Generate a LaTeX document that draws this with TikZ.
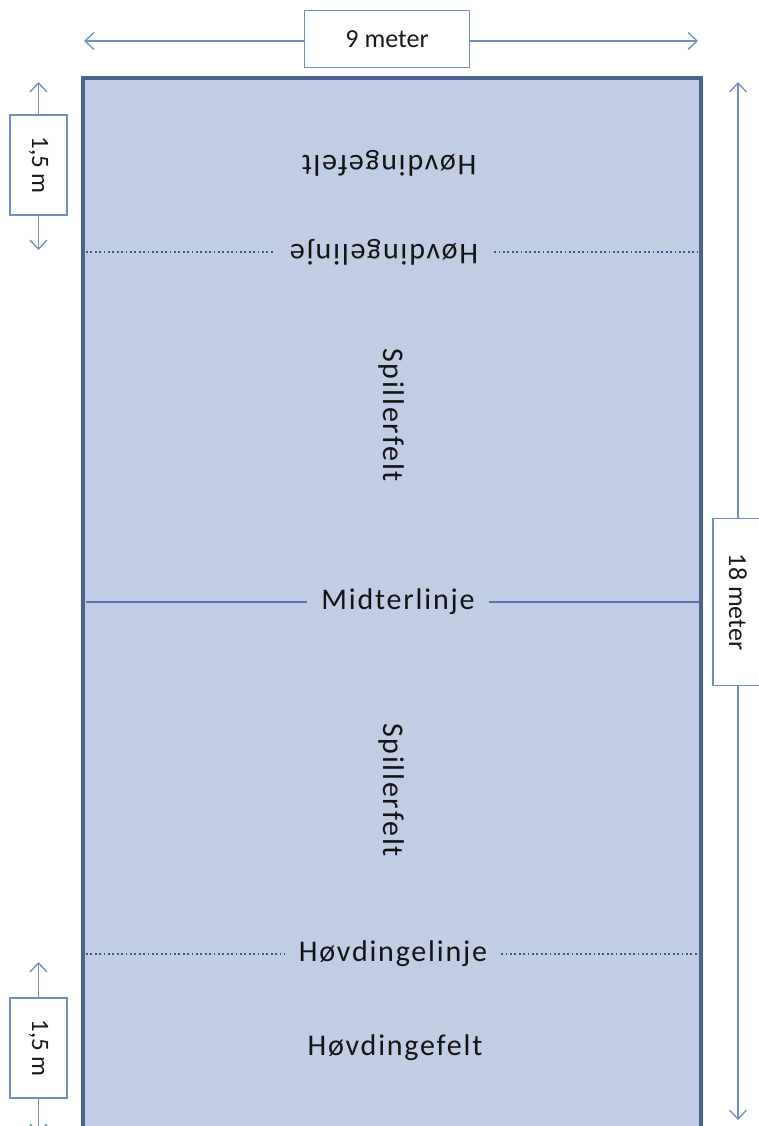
\documentclass[tikz,border=0pt]{standalone}
\usepackage{fontspec}
\setmainfont{Carlito}
\newfontfamily\widefont{Carlito}[LetterSpace=6]
\usetikzlibrary{arrows.meta}
\definecolor{field}{RGB}{192,205,228}
\definecolor{border}{RGB}{74,99,145}
\definecolor{dim}{RGB}{112,142,196}
\definecolor{midc}{RGB}{85,115,172}
\definecolor{dots}{RGB}{55,85,145}
\begin{document}
\begin{tikzpicture}[x=1pt,y=1pt,
 lbl/.style={font=\fontsize{30}{32}\selectfont\widefont, text=black!92, inner sep=0pt},
 dimbox/.style={draw=dim, line width=1.3pt, fill=white, inner sep=0pt, text=black!90, font=\fontsize{26}{28}\selectfont},
 dimline/.style={draw=dim, line width=1.3pt},
 tipb/.style={-{Straight Barb[length=9pt,width=17pt]}},
 dotline/.style={draw=dots, line width=2.2pt, dash pattern=on 1.8pt off 2.6pt},
 midline/.style={draw=midc, line width=1.4pt},
]
\useasboundingbox (0,0) rectangle (759,-1126);
\clip (0,0) rectangle (759,-1126);
\fill[white] (0,0) rectangle (759,-1126);
% field
\draw[border, line width=3.5pt, fill=field] (83,-78) rectangle (701,-1145);
% dimension: 9 meter
\node[dimbox, minimum width=165pt, minimum height=57pt] (w) at (387,-39) {9 meter};
\coordinate (wL) at (84,-41);
\coordinate (wR) at (698,-41);
\draw[dimline, tipb] (w.west |- wL) -- (wL);
\draw[dimline, tipb] (w.east |- wR) -- (wR);
% dimension: 18 meter
\node[dimbox, rotate=-90, minimum width=167pt, minimum height=50pt] (h) at (738,-602) {18 meter};
\coordinate (hT) at (738,-82);
\coordinate (hB) at (738,-1120);
\draw[dimline, tipb] (h.west) -- (hT);
\draw[dimline, tipb] (h.east) -- (hB);
% dimension: 1,5 m top
\node[dimbox, rotate=-90, minimum width=100pt, minimum height=57pt, font=\fontsize{25}{27}\selectfont] (a) at (38.5,-165) {1,5 m};
\coordinate (aT) at (38.5,-82);
\coordinate (aB) at (38.5,-250);
\draw[dimline, tipb] (a.west) -- (aT);
\draw[dimline, tipb] (a.east) -- (aB);
% dimension: 1,5 m bottom
\node[dimbox, rotate=-90, minimum width=100pt, minimum height=57pt, font=\fontsize{25}{27}\selectfont] (b) at (38.5,-1048) {1,5 m};
\coordinate (bT) at (38.5,-962);
\coordinate (bB) at (38.5,-1134);
\draw[dimline, tipb] (b.west) -- (bT);
\draw[dimline, tipb] (b.east) -- (bB);
% labels
\node[lbl, rotate=180] (hf1) at (389,-163) {Høvdingefelt};
\node[lbl, rotate=180] (hl1) at (384,-252) {Høvdingelinje};
\node[lbl, rotate=-90] (sp1) at (391,-415) {Spillerfelt};
\node[lbl] (mid) at (398,-602) {Midterlinje};
\node[lbl, rotate=-90] (sp2) at (391,-790) {Spillerfelt};
\node[lbl] (hl2) at (393,-954) {Høvdingelinje};
\node[lbl] (hf2) at (395,-1048) {Høvdingefelt};
% lines (hl1 is turned upside down: its east anchor lies on the left)
\coordinate (l1L) at (86,-252);
\coordinate (l1R) at (699,-252);
\draw[dotline] (l1L) -- ([xshift=-16pt]hl1.east |- l1L);
\draw[dotline] ([xshift=16pt]hl1.west |- l1R) -- (l1R);
\coordinate (mL) at (86,-602);
\coordinate (mR) at (699,-602);
\draw[midline] (mL) -- ([xshift=-14pt]mid.west |- mL);
\draw[midline] ([xshift=14pt]mid.east |- mR) -- (mR);
\coordinate (l2L) at (86,-954);
\coordinate (l2R) at (699,-954);
\draw[dotline] (l2L) -- ([xshift=-14pt]hl2.west |- l2L);
\draw[dotline] ([xshift=14pt]hl2.east |- l2R) -- (l2R);
\end{tikzpicture}
\end{document}
